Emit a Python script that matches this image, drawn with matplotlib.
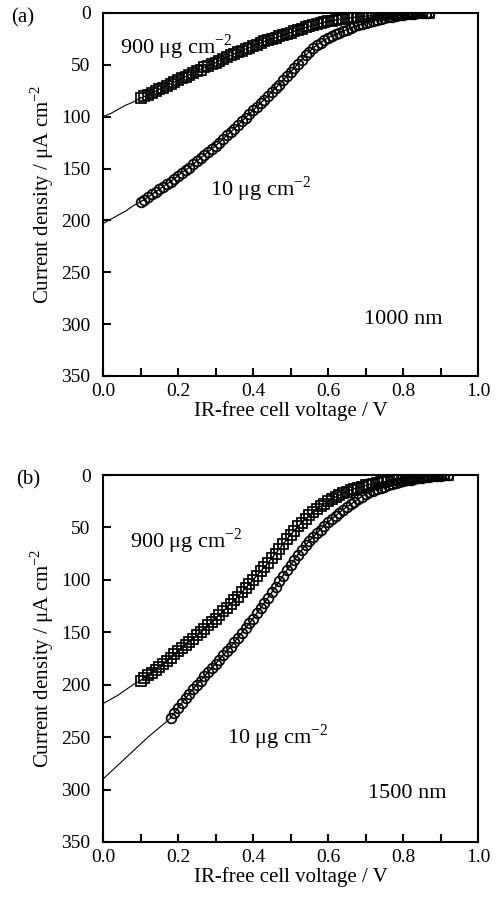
# I-V curves, two catalyst loadings, 1000 nm and 1500 nm
import numpy as np
import matplotlib.pyplot as plt
from matplotlib.ticker import MultipleLocator

plt.rcParams['font.family'] = ['Liberation Serif', 'DejaVu Serif']
plt.rcParams['mathtext.fontset'] = 'custom'
plt.rcParams['mathtext.rm'] = 'Liberation Serif'

# (a) 1000 nm -- both loadings measured over the same voltages
v_a = [0.10, 0.11, 0.12, 0.13, 0.14, 0.15, 0.16, 0.17, 0.18, 0.19,
       0.20, 0.21, 0.22, 0.23, 0.24, 0.25, 0.26, 0.27, 0.28, 0.29,
       0.30, 0.31, 0.32, 0.33, 0.34, 0.35, 0.36, 0.37, 0.38, 0.39,
       0.40, 0.41, 0.42, 0.43, 0.44, 0.45, 0.46, 0.47, 0.48, 0.49,
       0.50, 0.51, 0.52, 0.53, 0.54, 0.55, 0.56, 0.57, 0.58, 0.59,
       0.60, 0.61, 0.62, 0.63, 0.64, 0.65, 0.66, 0.67, 0.68, 0.69,
       0.70, 0.71, 0.72, 0.73, 0.74, 0.75, 0.76, 0.77, 0.78, 0.79,
       0.80, 0.81, 0.82, 0.83, 0.84, 0.85, 0.86, 0.87]
i_a_900 = [82, 80.5, 79, 77, 75.5, 73.5, 72, 70, 68.5, 66.5,
           65, 63, 61.5, 59.5, 58, 56, 54.5, 52.5, 51, 49.5,
           48, 46, 44.5, 42.5, 41, 39.5, 38, 36.5, 35, 33.5,
           32, 30.5, 29, 27.5, 26.5, 25, 24, 22.5, 21.5, 20,
           19, 17.5, 16.5, 15, 14, 13, 12, 11, 10, 9,
           8, 7.4, 6.8, 6.2, 5.6, 5.1, 4.6, 4.2, 3.8, 3.4,
           3, 2.7, 2.4, 2.1, 1.8, 1.5, 1.3, 1.1, 0.9, 0.7,
           0.6, 0.5, 0.4, 0.3, 0.2, 0.15, 0.1, 0]
i_a_10 = [182, 180, 177.5, 175, 172.5, 170, 167.5, 165, 162.5, 160,
          157, 154, 151.5, 149, 146, 143, 140, 137, 134, 131,
          128, 125, 121.5, 118, 115, 111.5, 108, 104.5, 101, 97.5,
          94, 90.5, 87, 83.5, 80, 76, 72.5, 69, 65, 61,
          57, 53, 49, 45, 41, 37.5, 34, 31, 28.5, 26,
          24, 22, 20.5, 19, 17.5, 16, 14.5, 13, 12, 10.5,
          9.5, 8.5, 7.5, 6.5, 5.5, 4.8, 4, 3.4, 2.8, 2.3,
          1.8, 1.4, 1, 0.7, 0.5, 0.3, 0.2, 0]
# fitted line run down to 0 V
fit_v_a = [0.0, 0.02, 0.04, 0.06, 0.08, 0.10]
fit_a_900 = [100, 97, 93, 89, 86, 82]
fit_a_10 = [203, 199, 195, 191, 186, 182]

# (b) 1500 nm
v_b_900 = [0.10, 0.11, 0.12, 0.13, 0.14, 0.15, 0.16, 0.17, 0.18, 0.19,
           0.20, 0.21, 0.22, 0.23, 0.24, 0.25, 0.26, 0.27, 0.28, 0.29,
           0.30, 0.31, 0.32, 0.33, 0.34, 0.35, 0.36, 0.37, 0.38, 0.39,
           0.40, 0.41, 0.42, 0.43, 0.44, 0.45, 0.46, 0.47, 0.48, 0.49,
           0.50, 0.51, 0.52, 0.53, 0.54, 0.55, 0.56, 0.57, 0.58, 0.59,
           0.60, 0.61, 0.62, 0.63, 0.64, 0.65, 0.66, 0.67, 0.68, 0.69,
           0.70, 0.71, 0.72, 0.73, 0.74, 0.75, 0.76, 0.77, 0.78, 0.79,
           0.80, 0.81, 0.82, 0.83, 0.84, 0.85, 0.86, 0.87, 0.88, 0.89,
           0.90, 0.91, 0.92]
i_b_900 = [196, 193.5, 191, 188.5, 186, 183, 180.5, 177.5, 174.5, 171,
           168, 165, 162, 159, 156, 153, 150, 147, 143.5, 140,
           137, 133.5, 130, 126.5, 123, 119.5, 116, 112, 108, 104,
           100, 96, 92, 88, 84, 79.5, 75, 70.5, 66, 61.5,
           57, 53, 49, 45.5, 42, 38.5, 35, 32.5, 30, 27.5,
           25, 23, 21, 19, 17.5, 16, 14.5, 13, 12, 11,
           10, 9.2, 8.4, 7.7, 7, 6.4, 5.8, 5.2, 4.6, 4,
           3.5, 3, 2.6, 2.2, 1.8, 1.5, 1.2, 0.9, 0.7, 0.5,
           0.3, 0.1, 0]
v_b_10 = [0.18, 0.19, 0.20, 0.21, 0.22, 0.23, 0.24, 0.25, 0.26, 0.27,
          0.28, 0.29, 0.30, 0.31, 0.32, 0.33, 0.34, 0.35, 0.36, 0.37,
          0.38, 0.39, 0.40, 0.41, 0.42, 0.43, 0.44, 0.45, 0.46, 0.47,
          0.48, 0.49, 0.50, 0.51, 0.52, 0.53, 0.54, 0.55, 0.56, 0.57,
          0.58, 0.59, 0.60, 0.61, 0.62, 0.63, 0.64, 0.65, 0.66, 0.67,
          0.68, 0.69, 0.70, 0.71, 0.72, 0.73, 0.74, 0.75, 0.76, 0.77,
          0.78, 0.79, 0.80, 0.81, 0.82, 0.83, 0.84, 0.85, 0.86, 0.87,
          0.88, 0.89, 0.90, 0.91, 0.92]
i_b_10 = [232, 227, 222, 217.5, 213, 208.5, 204, 200, 196, 192,
          188, 184, 180, 176, 172, 168, 164, 159.5, 155, 150.5,
          146, 141.5, 137, 132, 127, 122, 117, 112, 107, 101.5,
          96, 91, 86, 81, 76, 71.5, 67, 63, 59, 55.5,
          52, 48.5, 45, 42, 39, 36, 33, 30.5, 28, 25.5,
          23, 20.5, 18, 16.5, 15, 13.5, 12, 11, 10, 9,
          8, 7, 6, 5.2, 4.5, 3.7, 3, 2.5, 2, 1.6,
          1.2, 0.8, 0.5, 0.2, 0]
fit_v_b_900 = [0.0, 0.02, 0.04, 0.06, 0.08, 0.10]
fit_b_900 = [218, 214, 210, 205, 200, 196]
fit_v_b_10 = [0.0, 0.03, 0.06, 0.09, 0.12, 0.15, 0.18]
fit_b_10 = [290, 280, 270, 260, 250, 241, 232]

fig = plt.figure(figsize=(5, 9.01), dpi=100)
ax1 = fig.add_axes([0.206, 0.5827, 0.75, 0.4029])
ax2 = fig.add_axes([0.206, 0.0655, 0.75, 0.4073])

def style(ax):
    ax.set_xlim(0, 1.0)
    ax.set_ylim(350, 0)
    ax.xaxis.set_major_locator(MultipleLocator(0.2))
    ax.xaxis.set_minor_locator(MultipleLocator(0.1))
    ax.yaxis.set_major_locator(MultipleLocator(50))
    ax.xaxis.set_major_formatter(plt.FormatStrFormatter('%.1f'))
    ax.tick_params(which='both', direction='in', length=6, width=1.5, labelsize=14)
    ax.tick_params(axis='x', pad=5)
    ax.tick_params(axis='y', pad=9)
    for s in ax.spines.values():
        s.set_linewidth(1.5)
    ax.set_xlabel('IR-free cell voltage / V', fontsize=15, labelpad=1)
    ax.set_ylabel('Current density / μA cm$^{\\mathregular{-2}}$', fontsize=15, labelpad=4)

mk = dict(color='black', lw=1, markerfacecolor='none', markeredgecolor='black',
          markeredgewidth=1.25, markersize=7)

ax1.plot(fit_v_a, fit_a_900, color='black', lw=0.8)
ax1.plot(fit_v_a, fit_a_10, color='black', lw=0.8)
ax1.plot(v_a, i_a_900, marker='s', **mk)
ax1.plot(v_a, i_a_10, marker='o', **mk)
style(ax1)
ax1.text(0.045, 33, '900 μg cm$^{\\mathregular{-2}}$', fontsize=16, va='center')
ax1.text(0.285, 170, '10 μg cm$^{\\mathregular{-2}}$', fontsize=16, va='center')
ax1.text(0.80, 296, '1000 nm', fontsize=16, ha='center', va='center')

ax2.plot(fit_v_b_900, fit_b_900, color='black', lw=0.8)
ax2.plot(fit_v_b_10, fit_b_10, color='black', lw=0.8)
ax2.plot(v_b_900, i_b_900, marker='s', **mk)
ax2.plot(v_b_10, i_b_10, marker='o', **mk)
style(ax2)
ax2.text(0.072, 63, '900 μg cm$^{\\mathregular{-2}}$', fontsize=16, va='center')
ax2.text(0.33, 250, '10 μg cm$^{\\mathregular{-2}}$', fontsize=16, va='center')
ax2.text(0.81, 304, '1500 nm', fontsize=16, ha='center', va='center')

fig.text(0.045, 0.980, '(a)', fontsize=15, ha='center', va='center')
fig.text(0.057, 0.467, '(b)', fontsize=15, ha='center', va='center')

plt.savefig('out.png', dpi=100)
